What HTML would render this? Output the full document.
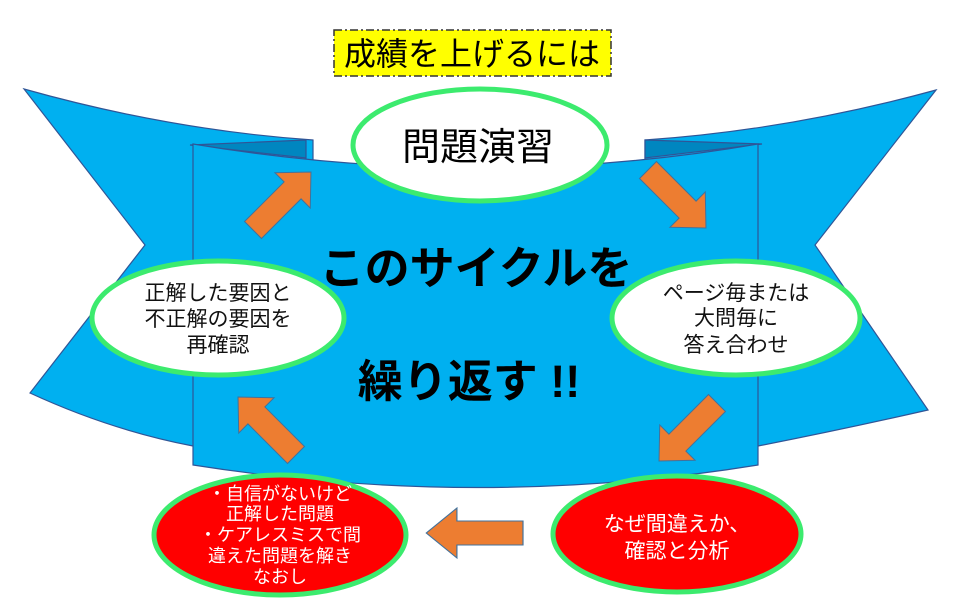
<!DOCTYPE html>
<html><head><meta charset="utf-8"><style>
body{margin:0;background:#fff;}
svg text{font-family:"Liberation Sans","Noto Sans CJK JP",sans-serif;}
</style></head><body>
<svg width="960" height="604" viewBox="0 0 960 604" xmlns="http://www.w3.org/2000/svg">
<defs>
<path id="ar" d="M0,-12 L56,-12 L56,-25 L82,0 L56,25 L56,12 L0,12 Z" fill="#ED7D31" stroke="#41719C" stroke-width="1"/>
</defs>
<g stroke="#2F5597" stroke-width="1.2" fill="#00B0F0">
<path d="M24,89 Q170,130 313,140 L313,446 L193,446 Q110,430 30,393 L145,245 Z"/>
<path d="M936,90 Q790,130 645,140 L645,446 L758,446 Q840,430 928,410 L815,245 Z"/>
<path d="M190,145 L306,140 L306,158 Z" fill="#0086C0"/>
<path d="M645,140 L762,144 L645,158 Z" fill="#0086C0"/>
<path d="M193,144 Q480,192 758,144 L758,465 Q480,510 193,465 Z"/>
</g>
<rect x="334" y="30" width="277" height="46" fill="#FFFF00" stroke="#333" stroke-width="1.5" stroke-dasharray="8,3,2,3"/>
<text x="472" y="65" font-size="32" text-anchor="middle" fill="#000">成績を上げるには</text>
<use href="#ar" transform="translate(253,230) rotate(-45)"/>
<use href="#ar" transform="translate(648,170) rotate(45)"/>
<use href="#ar" transform="translate(717,403) rotate(135)"/>
<use href="#ar" transform="translate(523,533) rotate(180) scale(1.18,1)"/>
<use href="#ar" transform="translate(296,455) rotate(-135)"/>
<text x="476" y="284" font-size="45" font-weight="bold" text-anchor="middle" fill="#000">このサイクルを</text>
<text x="469" y="397" font-size="45" font-weight="bold" text-anchor="middle" fill="#000">繰り返す !!</text>
<g stroke="#3CEB6E" stroke-width="5">
<ellipse cx="480" cy="145" rx="127" ry="56" fill="#fff"/>
<ellipse cx="736" cy="318" rx="124" ry="57" fill="#fff"/>
<ellipse cx="218" cy="318" rx="126" ry="57" fill="#fff"/>
<ellipse cx="677" cy="534" rx="124" ry="58" fill="#FF0000"/>
<ellipse cx="280" cy="535" rx="126" ry="60" fill="#FF0000"/>
</g>
<text x="478" y="160" font-size="38" text-anchor="middle" fill="#000">問題演習</text>
<g font-size="21" text-anchor="middle" fill="#111">
<text x="736" y="300">ページ毎または</text>
<text x="736" y="325">大問毎に</text>
<text x="736" y="352">答え合わせ</text>
<text x="218" y="300">正解した要因と</text>
<text x="218" y="326">不正解の要因を</text>
<text x="218" y="352">再確認</text>
</g>
<g font-size="21" text-anchor="middle" fill="#fff">
<text x="677" y="531">なぜ間違えか、</text>
<text x="677" y="558">確認と分析</text>
</g>
<g font-size="18" text-anchor="middle" fill="#fff">
<text x="280" y="500">・自信がないけど</text>
<text x="280" y="520">正解した問題</text>
<text x="280" y="541">・ケアレスミスで間</text>
<text x="280" y="562">違えた問題を解き</text>
<text x="280" y="583">なおし</text>
</g>
</svg>
</body></html>
